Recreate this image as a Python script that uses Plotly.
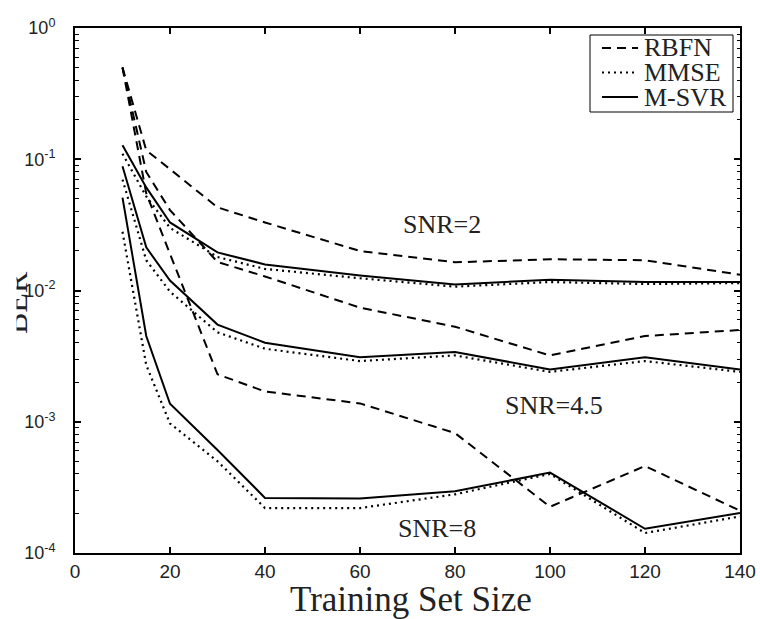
import math
import plotly.graph_objects as go

# ---------------- data ----------------
train_size = [10, 15, 20, 30, 40, 60, 80, 100, 120, 140]

rbfn_snr2 = [0.50, 0.117, 0.084, 0.043, 0.033, 0.020, 0.0164, 0.0173, 0.0170, 0.0132]
mmse_snr2 = [0.11, 0.052, 0.030, 0.018, 0.0146, 0.0124, 0.0107, 0.0116, 0.0112, 0.0114]
msvr_snr2 = [0.128, 0.061, 0.033, 0.0195, 0.0158, 0.013, 0.0111, 0.0121, 0.0116, 0.0116]

rbfn_snr45 = [0.50, 0.080, 0.041, 0.0165, 0.0128, 0.0074, 0.0053, 0.0032, 0.0045, 0.0050]
mmse_snr45 = [0.070, 0.017, 0.0098, 0.0048, 0.0036, 0.0029, 0.0032, 0.0024, 0.0029, 0.0024]
msvr_snr45 = [0.0885, 0.0213, 0.0119, 0.0055, 0.0040, 0.0031, 0.0034, 0.0025, 0.0031, 0.0025]

rbfn_snr8 = [0.50, 0.055, 0.019, 0.0023, 0.0017, 0.00138, 0.00082, 0.000225, 0.00046, 0.00021]
mmse_snr8 = [0.028, 0.0027, 0.00097, 0.0005, 0.00022, 0.00022, 0.00028, 0.0004, 0.000142, 0.00019]
msvr_snr8 = [0.051, 0.0045, 0.00137, 0.00061, 0.000263, 0.00026, 0.000295, 0.00041, 0.000153, 0.000202]

methods = ["RBFN", "MMSE", "M-SVR"]
x_ticks = [0, 20, 40, 60, 80, 100, 120, 140]
y_tickvals = [1e-4, 1e-3, 1e-2, 1e-1, 1e0]
y_ticktext = ["10<sup>-4</sup>", "10<sup>-3</sup>", "10<sup>-2</sup>", "10<sup>-1</sup>", "10<sup>0</sup>"]
snr_labels = ["SNR=2", "SNR=4.5", "SNR=8"]
snr_label_pos = [(77.3, 0.032), (100.8, 0.00132), (76.3, 0.000155)]

# ---------------- geometry helpers (pixels -> paper) ----------------
W, H = 760, 619
ML, MR, MT, MB = 75, 20, 28, 66
PW, PH = W - ML - MR, H - MT - MB


def px(x):
    return (x - ML) / PW


def py(y):
    return (H - MB - y) / PH


styles = {
    "RBFN": dict(color="black", width=2, dash="9px,6px"),
    "MMSE": dict(color="black", width=2.2, dash="2px,4px"),
    "M-SVR": dict(color="black", width=2, dash="solid"),
}
series = {
    "RBFN": [rbfn_snr2, rbfn_snr45, rbfn_snr8],
    "MMSE": [mmse_snr2, mmse_snr45, mmse_snr8],
    "M-SVR": [msvr_snr2, msvr_snr45, msvr_snr8],
}

fig = go.Figure()
for m in methods:
    for ys in series[m]:
        fig.add_trace(go.Scatter(
            x=train_size, y=ys, mode="lines", name=m,
            line=styles[m], showlegend=False, hoverinfo="x+y+name",
        ))

serif = "Liberation Serif, Times New Roman, serif"
sans = "Liberation Sans, Arial, sans-serif"

for txt, (xx, yy) in zip(snr_labels, snr_label_pos):
    fig.add_annotation(x=xx, y=math.log10(yy), xref="x", yref="y", text=txt,
                       showarrow=False, font=dict(family=serif, size=26, color="#222"),
                       xanchor="center", yanchor="middle")

# ---------------- custom legend ----------------
fig.add_shape(type="rect", xref="paper", yref="paper",
              x0=px(590), x1=px(733), y0=py(112), y1=py(35),
              line=dict(color="black", width=1), fillcolor="white", layer="above")
for i, m in enumerate(methods):
    yy = py(48 + 24.5 * i)
    fig.add_shape(type="line", xref="paper", yref="paper",
                  x0=px(602), x1=px(638), y0=yy, y1=yy,
                  line=styles[m], layer="above")
    fig.add_annotation(x=px(642), y=yy, xref="paper", yref="paper", text=m,
                       showarrow=False, xanchor="left", yanchor="middle",
                       font=dict(family=serif, size=26, color="#222"))

# ---------------- axis titles ----------------
fig.add_annotation(x=px(16), y=py(302), xref="paper", yref="paper", text="BER",
                   textangle=-90, showarrow=False,
                   font=dict(family=serif, size=32, color="#222"),
                   xanchor="center", yanchor="middle")
fig.add_annotation(x=px(0), y=py(302), xref="paper", yref="paper", text=" ",
                   showarrow=False, bgcolor="white", width=13, height=100,
                   xanchor="left", yanchor="middle")
fig.add_annotation(x=px(411), y=py(599), xref="paper", yref="paper",
                   text="Training Set Size", showarrow=False,
                   xanchor="center", yanchor="middle",
                   font=dict(family=serif, size=35, color="#222"))

fig.update_layout(
    template="none",
    width=W, height=H,
    margin=dict(l=ML, r=MR, t=MT, b=MB, autoexpand=False),
    paper_bgcolor="white", plot_bgcolor="white",
    showlegend=False,
    xaxis=dict(
        range=[0, 140], tickmode="array", tickvals=x_ticks, ticks="inside",
        ticklen=6, tickwidth=1.5, tickcolor="black",
        showline=True, linecolor="black", linewidth=2,
        mirror="ticks", showgrid=False, zeroline=False, automargin=False,
        tickfont=dict(family=sans, size=19, color="#222"),
    ),
    yaxis=dict(
        type="log", range=[-4, 0], tickmode="array", tickvals=y_tickvals,
        ticktext=y_ticktext,
        ticks="inside", ticklen=6, tickwidth=1.5, tickcolor="black",
        showline=True, linecolor="black", linewidth=2, mirror="ticks",
        showgrid=False, zeroline=False, automargin=False,
        tickfont=dict(family=sans, size=18, color="#222"),
        ticklabelstandoff=14,
        minor=dict(ticks="inside", ticklen=3.5, tickwidth=1.2, tickcolor="black",
                   showgrid=False, dtick="D1"),
    ),
)

fig.write_html("out.html")
